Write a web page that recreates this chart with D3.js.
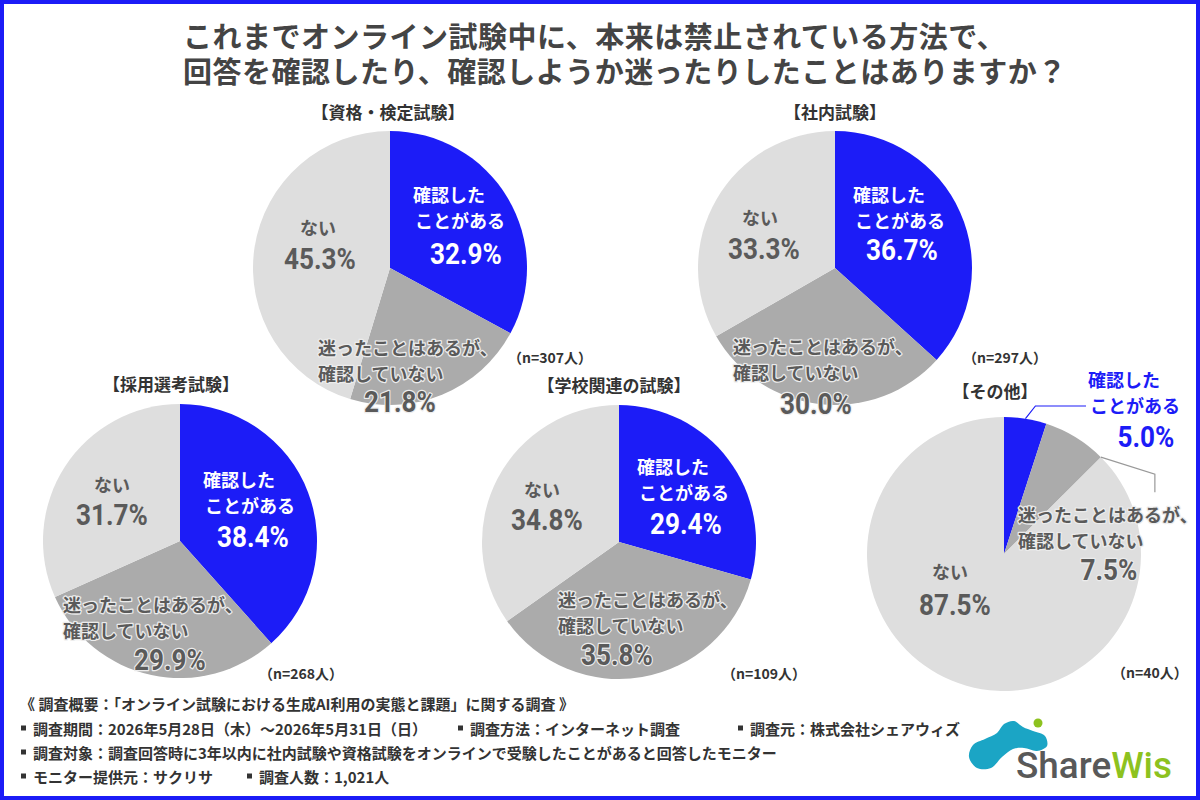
<!DOCTYPE html>
<html><head><meta charset="utf-8">
<script src="https://cdn.jsdelivr.net/npm/d3@7"></script>
<style>body{margin:0;background:#fff}svg{display:block}</style>
</head><body><svg id="c" width="1200" height="800"></svg>
<script>
// ---------- data ----------
const titleLines = ["これまでオンライン試験中に、本来は禁止されている方法で、", "回答を確認したり、確認しようか迷ったりしたことはありますか？"];
const categories = ["資格・検定試験", "社内試験", "採用選考試験", "学校関連の試験", "その他"];
const sampleSizes = [307, 297, 268, 109, 40];
const answerLabels = [["確認した", "ことがある"], ["迷ったことはあるが、", "確認していない"], ["ない"]];
const confirmedPct = [32.9, 36.7, 38.4, 29.4, 5.0];
const hesitatedPct = [21.8, 30.0, 29.9, 35.8, 7.5];
const neverPct = [45.3, 33.3, 31.7, 34.8, 87.5];
const footerHeader = "《 調査概要：「オンライン試験における生成AI利用の実態と課題」に関する調査 》";
const footerRows = [
  ["調査期間：2026年5月28日（木）～2026年5月31日（日）", "調査方法：インターネット調査", "調査元：株式会社シェアウィズ"],
  ["調査対象：調査回答時に3年以内に社内試験や資格試験をオンラインで受験したことがあると回答したモニター"],
  ["モニター提供元：サクリサ", "調査人数：1,021人"]
];

// ---------- layout ----------
const layout = [
  {cx: 390, cy: 268, title: [388, 111], n: [508, 357], lab: [[413, 194, 466, 253], [318, 347, 400, 401], [318, 227, 320, 258]]},
  {cx: 835, cy: 268, title: [835, 111], n: [963, 357], lab: [[853, 194, 902, 249], [733, 346, 816, 403], [760, 217, 764, 248]]},
  {cx: 180, cy: 541, title: [171, 383], n: [259, 673], lab: [[203, 479, 253, 536], [63, 604, 170, 659], [112, 484, 112, 514]]},
  {cx: 619, cy: 542, title: [614, 384], n: [722, 673], lab: [[637, 466, 686, 523], [558, 599, 617, 654], [542, 489, 547, 519]]},
  {cx: 1004, cy: 554, title: [995, 390], n: [1112, 672], lab: [[1088, 379, 1146, 436], [1018, 514, 1109, 569], [950, 571, 955, 604]], outside: true}
];
const R = 137;
const colors = ["#1c1cf7", "#ababab", "#dedede"];
const JP = "'Noto Sans CJK JP','Noto Sans',sans-serif";
const NUM = "Roboto,'Noto Sans',sans-serif";

const svg = d3.select("#c");
svg.append("rect").attr("width", 1200).attr("height", 800).attr("fill", "#fff");

// title (one text element, two lines)
const tt = svg.append("text")
  .attr("font-family", JP).attr("font-weight", 700).attr("font-size", 29)
  .attr("letter-spacing", 0.5).attr("fill", "#444");
tt.selectAll("tspan").data(titleLines).join("tspan")
  .attr("x", 183).attr("y", (d, i) => 48 + i * 35).text(d => d);

const pie = d3.pie().sort(null).value(d => d.v);
const arc = d3.arc().innerRadius(0).outerRadius(R);

function squeeze(sel, f) {
  sel.each(function () {
    const w = this.getComputedTextLength();
    d3.select(this).attr("textLength", w * f).attr("lengthAdjust", "spacingAndGlyphs");
  });
}

categories.forEach((cat, i) => {
  const L = layout[i];
  const vals = [confirmedPct[i], hesitatedPct[i], neverPct[i]].map((v, k) => ({v, k}));
  const g = svg.append("g");
  const arcs = pie(vals);
  g.append("g").attr("transform", `translate(${L.cx},${L.cy})`)
    .selectAll("path").data(arcs).join("path")
    .attr("d", arc).attr("fill", d => colors[d.data.k]);

  g.append("text").attr("x", L.title[0]).attr("y", L.title[1])
    .attr("text-anchor", "middle").attr("dominant-baseline", "central")
    .attr("font-family", JP).attr("font-weight", 700).attr("font-size", 17)
    .attr("fill", "#333").text(`【${cat}】`);
  g.append("text").attr("x", L.n[0]).attr("y", L.n[1])
    .attr("dominant-baseline", "central")
    .attr("font-family", JP).attr("font-weight", 700).attr("font-size", 14)
    .attr("fill", "#333").text(`（n=${sampleSizes[i]}人）`);

  arcs.forEach((a, k) => {
    const [tx, ty, px, py] = L.lab[k];
    let fill, halo = null;
    if (k === 0) fill = L.outside ? "#1c1cf7" : "#fff";
    else fill = "#5a5a5a";
    if (k === 1) halo = "#ececec";
    const lines = answerLabels[k];
    const anchor = k === 2 ? "middle" : "start";
    lines.forEach((ln, j) => {
      const t = g.append("text").attr("x", tx + (k === 0 && j === 1 ? 2 : 0)).attr("y", ty + j * 26)
        .attr("text-anchor", anchor).attr("dominant-baseline", "central")
        .attr("font-family", JP).attr("font-weight", 700).attr("font-size", 18)
        .attr("fill", fill).text(ln);
      if (halo) t.attr("stroke", halo).attr("stroke-width", 2.5).attr("paint-order", "stroke").attr("stroke-linejoin", "round");
    });
    const p = g.append("text").attr("x", px).attr("y", py)
      .attr("text-anchor", "middle").attr("dominant-baseline", "central")
      .attr("font-family", NUM).attr("font-weight", 700).attr("font-size", 30)
      .attr("fill", fill).text(a.data.v.toFixed(1) + "%");
    if (halo) p.attr("stroke", halo).attr("stroke-width", 2.5).attr("paint-order", "stroke").attr("stroke-linejoin", "round");
    squeeze(p, 0.87);
  });

  if (L.outside) {
    const b = arcs[0], m = arcs[1];
    const mid = (b.startAngle + b.endAngle) / 2;
    const p0 = [L.cx + R * Math.sin(mid), L.cy - R * Math.cos(mid)];
    const ty0 = L.lab[0][1] + 27;
    g.append("path").attr("d", d3.line()([p0, [p0[0] + 10, ty0], [L.lab[0][0] - 2, ty0]]))
      .attr("fill", "none").attr("stroke", "#1c1cf7").attr("stroke-width", 1.2);
    const e = m.endAngle;
    const q0 = [L.cx + R * Math.sin(e), L.cy - R * Math.cos(e)];
    g.append("path").attr("d", d3.line()([q0, [q0[0] + 54, q0[1] + 17], [q0[0] + 54, q0[1] + 35]]))
      .attr("fill", "none").attr("stroke", "#999").attr("stroke-width", 1.2);
  }
});

// footer
const FT = svg.append("g").attr("font-family", JP).attr("font-weight", 600).attr("font-size", 15).attr("fill", "#333");
FT.append("text").attr("x", 20).attr("y", 703).attr("dominant-baseline", "central").text(footerHeader);
const colX = [[21, 458, 738], [21], [21, 247]];
footerRows.forEach((row, r) => {
  row.forEach((s, c) => {
    const x = colX[r][c], y = 728 + r * 24;
    FT.append("rect").attr("x", x).attr("y", y - 2.5).attr("width", 5).attr("height", 5).attr("fill", "#333");
    FT.append("text").attr("x", x + 12).attr("y", y).attr("dominant-baseline", "central").text(s);
  });
});

// logo
const LG = svg.append("g");
const teal = "#1ba5c5";
const blob = [[969, 757], [973, 745], [985, 739], [997, 733], [1004, 724], [1014, 721], [1023, 727], [1033, 731], [1045, 736], [1047, 746], [1037, 751], [1024, 748], [1013, 749], [1002, 757], [991, 768], [977, 768]];
LG.append("path").attr("d", d3.line().curve(d3.curveCatmullRomClosed)(blob)).attr("fill", teal);
LG.append("circle").attr("cx", 1038).attr("cy", 723).attr("r", 4.5).attr("fill", "#8dc21f");
const lt = LG.append("text").attr("x", 1016).attr("y", 778)
  .attr("font-family", NUM).attr("font-weight", 500).attr("font-size", 36);
lt.append("tspan").attr("fill", "#595959").text("Share");
lt.append("tspan").attr("fill", "#8dc21f").text("Wis");
lt.attr("textLength", 156).attr("lengthAdjust", "spacingAndGlyphs");

// border
svg.append("rect").attr("x", 2).attr("y", 2).attr("width", 1196).attr("height", 796)
  .attr("fill", "none").attr("stroke", "#1c1cf7").attr("stroke-width", 4);
</script></body></html>
